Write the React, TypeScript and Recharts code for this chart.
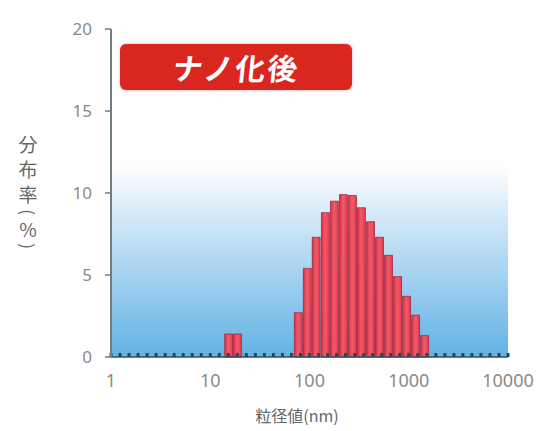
import React from 'react';
import {
  ComposedChart, Bar, XAxis, YAxis, ReferenceArea,
} from 'recharts';

// particle size bins (nm) and distribution (%)
const sizes = [15.5, 19, 78, 96, 118, 146, 180, 222, 274, 337, 416, 513, 632, 780, 961, 1185, 1462];
const rates = [1.4, 1.4, 2.7, 5.4, 7.3, 8.8, 9.5, 9.9, 9.85, 9.1, 8.25, 7.3, 6.2, 4.9, 3.7, 2.55, 1.3];

const xTicks = [1, 10, 100, 1000, 10000];
const yTicks = [0, 5, 10, 15, 20];
const xTickLabels = ['1', '10', '100', '1000', '10000'];

const title = 'ナノ化後';
const yLabel = ['分', '布', '率', '(', '%', ')'];
const xLabel = '粒径値(nm)';

// small baseline marks, one per bin edge (11 bins per decade)
const binEdges = Array.from({ length: 45 }, (_, i) => Math.pow(10, i / 11));

const data = sizes.map((s, i) => ({ size: s, rate: rates[i] }));

const font = '"Noto Sans", "Noto Sans CJK JP", sans-serif';
const jpFont = '"Noto Sans CJK JP", sans-serif';
const noLabel = () => '';

// y tick: label outside, short mark pointing into the plot
const YTick = (props: any) => {
  const { x, y, payload } = props;
  return (
    <g>
      <line x1={x + 13} x2={x + 19} y1={y} y2={y} stroke="#6f7c84" strokeWidth={1.5} />
      <text x={x} y={y} dy="0.35em" textAnchor="end" fill="#8a8a8a" fontSize={17} fontFamily={font}>
        {payload.value}
      </text>
    </g>
  );
};

export default function App() {
  return (
    <div style={{ position: 'absolute', left: 0, top: 0, width: 540, height: 431, background: '#fff', fontFamily: font }}>
      <ComposedChart width={540} height={431} data={data} margin={{ top: 29, right: 32, left: 0, bottom: 0 }}>
        <defs>
          <linearGradient id="bgBlue" x1="0" y1="0" x2="0" y2="1">
            <stop offset="0%" stopColor="#ffffff" stopOpacity={1} />
            <stop offset="22%" stopColor="#dcedf9" stopOpacity={1} />
            <stop offset="100%" stopColor="#62b2e4" stopOpacity={1} />
          </linearGradient>
          <linearGradient id="barRed" x1="0" y1="0" x2="1" y2="0">
            <stop offset="0%" stopColor="#d03444" />
            <stop offset="45%" stopColor="#f65a6a" />
            <stop offset="100%" stopColor="#dc3e4e" />
          </linearGradient>
        </defs>
        <ReferenceArea
          xAxisId="main"
          x1={1}
          x2={10000}
          y1={0}
          y2={11.8}
          fill="url(#bgBlue)"
          fillOpacity={1}
          stroke="none"
          ifOverflow="hidden"
        />
        <Bar
          xAxisId="main"
          dataKey="rate"
          barSize={9}
          fill="url(#barRed)"
          stroke="#a8223a"
          strokeWidth={0.8}
          isAnimationActive={false}
        />
        <XAxis
          xAxisId="main"
          dataKey="size"
          type="number"
          scale="log"
          domain={[1, 10000]}
          allowDataOverflow
          ticks={xTicks}
          tickFormatter={(v: number) => xTickLabels[xTicks.indexOf(v)] ?? String(v)}
          height={74}
          tickLine={false}
          tickMargin={11}
          axisLine={{ stroke: '#34505e', strokeWidth: 1.5 }}
          tick={{ fill: '#8a8a8a', fontSize: 18, fontFamily: font }}
        />
        <XAxis
          xAxisId="minor"
          dataKey="size"
          type="number"
          scale="log"
          domain={[1, 10000]}
          allowDataOverflow
          ticks={binEdges}
          interval={0}
          mirror
          height={30}
          tickFormatter={noLabel}
          axisLine={false}
          tickSize={4}
          tickLine={{ stroke: '#2c4656', strokeWidth: 3 }}
        />
        <YAxis
          domain={[0, 20]}
          ticks={yTicks}
          width={111}
          tickLine={false}
          tickMargin={13}
          axisLine={{ stroke: '#6f7c84', strokeWidth: 2 }}
          tick={<YTick />}
        />
      </ComposedChart>

      <div style={{
        position: 'absolute', left: 120, top: 44, width: 232, height: 46,
        background: '#d9271f', borderRadius: 6, color: '#fff',
        fontFamily: jpFont, fontWeight: 700, fontSize: 30,
        letterSpacing: 2, display: 'flex', alignItems: 'center', justifyContent: 'center',
        boxShadow: '0 0 3px rgba(200,40,30,0.4)',
      }}>
        <span style={{ transform: 'skewX(-6deg)', display: 'inline-block' }}>{title}</span>
      </div>

      <div style={{
        position: 'absolute', left: 16, top: 131, width: 24, display: 'flex', flexDirection: 'column',
        alignItems: 'center', fontFamily: jpFont, fontSize: 19, color: '#666',
      }}>
        {yLabel.map((c, i) => {
          const paren = c === '(' || c === ')';
          return (
            <span
              key={i}
              style={paren
                ? { transform: 'rotate(90deg)', display: 'block', height: 12, lineHeight: '12px', fontSize: 17 }
                : { display: 'block', height: c === '%' ? 22 : 25, lineHeight: c === '%' ? '22px' : '25px' }}
            >
              {c}
            </span>
          );
        })}
      </div>

      <div style={{
        position: 'absolute', left: 0, width: 594, top: 403, textAlign: 'center',
        fontFamily: jpFont, fontSize: 16, color: '#666',
      }}>
        {xLabel}
      </div>
    </div>
  );
}
